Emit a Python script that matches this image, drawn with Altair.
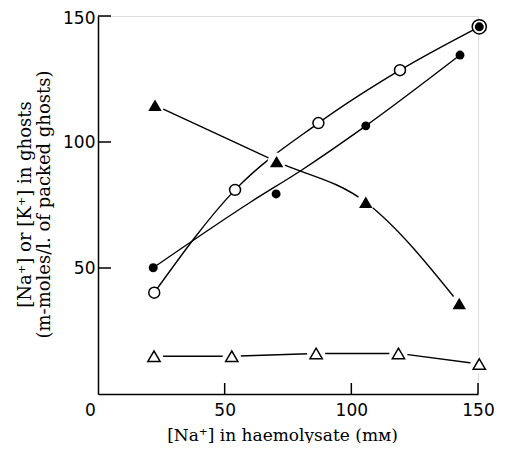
import altair as alt
import pandas as pd

# Open circles
oc_x = [22.2, 54.1, 87.0, 119.2, 150.5]
oc_y = [40.2, 81.0, 107.5, 128.5, 145.7]
# Filled circles
fc_x = [21.8, 70.3, 105.7, 142.9, 150.5]
fc_y = [50.1, 79.4, 106.4, 134.5, 145.7]
# Fitted line for filled circles
fcl_x = [21.8, 60.0, 80.0, 105.7, 142.9]
fcl_y = [50.1, 76.0, 88.6, 106.4, 134.5]
# Filled triangles
ft_x = [22.5, 70.5, 105.7, 142.6]
ft_y = [114.6, 92.2, 76.1, 35.9]
# Open triangles
ot_x = [22.1, 52.8, 86.1, 118.6, 150.5]
ot_y = [15.0, 15.0, 16.1, 16.1, 11.9]

x_ticks = [50, 100, 150]
y_ticks = [50, 100, 150]

W, H = 380, 378

def df(xs, ys, s):
    return pd.DataFrame({"x": xs, "y": ys, "s": s})

oc = df(oc_x, oc_y, "oc")
fc = df(fc_x, fc_y, "fc")
fcl = df(fcl_x, fcl_y, "fcl")
ft = df(ft_x, ft_y, "ft")
ot = df(ot_x, ot_y, "ot")

xs = alt.Scale(domain=[0, 150], nice=False, zero=False)
ys = alt.Scale(domain=[0, 150], nice=False, zero=False)

SERIF = "DejaVu Serif"
SANS = "DejaVu Sans"

X = alt.X("x:Q", scale=xs, axis=alt.Axis(
    values=[0, 50, 100, 150], ticks=False, grid=False, domainColor="black",
    domainWidth=1.5, labelFont=SANS, labelFontSize=17,
    labelColor="black", labelPadding=8, labelFlush=False,
    labelOffset={"expr": "datum.value == 0 ? -8 : 0"},
    title="[Na⁺] in haemolysate (mᴍ)", titleFont=SERIF,
    titleFontSize=17, titleFontWeight="normal", titleColor="black",
    titleX=184, titleY=46, titleBaseline="alphabetic", titleAnchor="middle"))
Y = alt.Y("y:Q", scale=ys, axis=alt.Axis(
    values=[50, 100, 150], ticks=False, grid=False, domainColor="black",
    domainWidth=1.5, labelFont=SANS, labelFontSize=17,
    labelColor="black", labelPadding=3,
    labelOffset={"expr": "datum.value == 150 ? 2 : 0"},
    title=["[Na⁺] or [K⁺] in ghosts", "(m-moles/l. of packed ghosts)"],
    titleFont=SERIF, titleFontSize=18, titleFontWeight="normal",
    titleColor="black", titleAngle=270, titleX=-73, titleY=188,
    titleBaseline="middle", titleAnchor="middle", titleLineHeight=19))

def line(d, interp):
    return alt.Chart(d).mark_line(color="black", strokeWidth=1.4,
                                  interpolate=interp, clip=False).encode(
        x=alt.X("x:Q", scale=xs), y=alt.Y("y:Q", scale=ys), order="x:Q")

base_axes = alt.Chart(oc).mark_point(opacity=0).encode(x=X, y=Y)

lines = [
    line(oc, "monotone"),
    line(fcl, "monotone"),
    line(ft, "monotone"),
    line(ot, "linear"),
]

tri = pd.concat([ft, ot])
halo = alt.Chart(tri).mark_point(shape="circle", filled=True, color="white",
                                 opacity=1, size=330, clip=False).encode(
    x=alt.X("x:Q", scale=xs), y=alt.Y("y:Q", scale=ys))

oc_m = alt.Chart(oc).mark_point(shape="circle", filled=True, fill="white",
                                stroke="black", strokeWidth=1.5, opacity=1,
                                clip=False).encode(
    x=alt.X("x:Q", scale=xs), y=alt.Y("y:Q", scale=ys),
    size=alt.condition(alt.datum.x > 148, alt.value(200), alt.value(120)))
fc_m = alt.Chart(fc).mark_point(shape="circle", filled=True, color="black",
                                opacity=1, size=80, clip=False).encode(
    x=alt.X("x:Q", scale=xs), y=alt.Y("y:Q", scale=ys))
tri_path = "M0,-0.85L1,0.85L-1,0.85Z"
ft_m = alt.Chart(ft).mark_point(shape=tri_path, filled=True, color="black",
                                opacity=1, size=180, clip=False).encode(
    x=alt.X("x:Q", scale=xs), y=alt.Y("y:Q", scale=ys))
ot_m = alt.Chart(ot).mark_point(shape=tri_path, filled=True, fill="white",
                                stroke="black", strokeWidth=1.5, opacity=1,
                                size=150, clip=False).encode(
    x=alt.X("x:Q", scale=xs), y=alt.Y("y:Q", scale=ys))

ytick = alt.Chart(pd.DataFrame({"y": y_ticks})).mark_rule(
    color="black", strokeWidth=1.5).encode(
    x=alt.value(0), x2=alt.value(13), y=alt.Y("y:Q", scale=ys))
xtick = alt.Chart(pd.DataFrame({"x": x_ticks})).mark_rule(
    color="black", strokeWidth=1.5).encode(
    x=alt.X("x:Q", scale=xs), y=alt.value(H), y2=alt.value(H - 11))

chart = alt.layer(base_axes, *lines, halo, oc_m, fc_m, ft_m, ot_m, ytick, xtick).properties(
    width=W, height=H,
    autosize=alt.AutoSizeParams(type="none"),
    padding={"left": 90, "top": 8, "right": 18, "bottom": 49},
).configure_view(stroke=None).configure(background="white")

chart.save("out.html", embed_options={"renderer": "svg", "actions": False})
